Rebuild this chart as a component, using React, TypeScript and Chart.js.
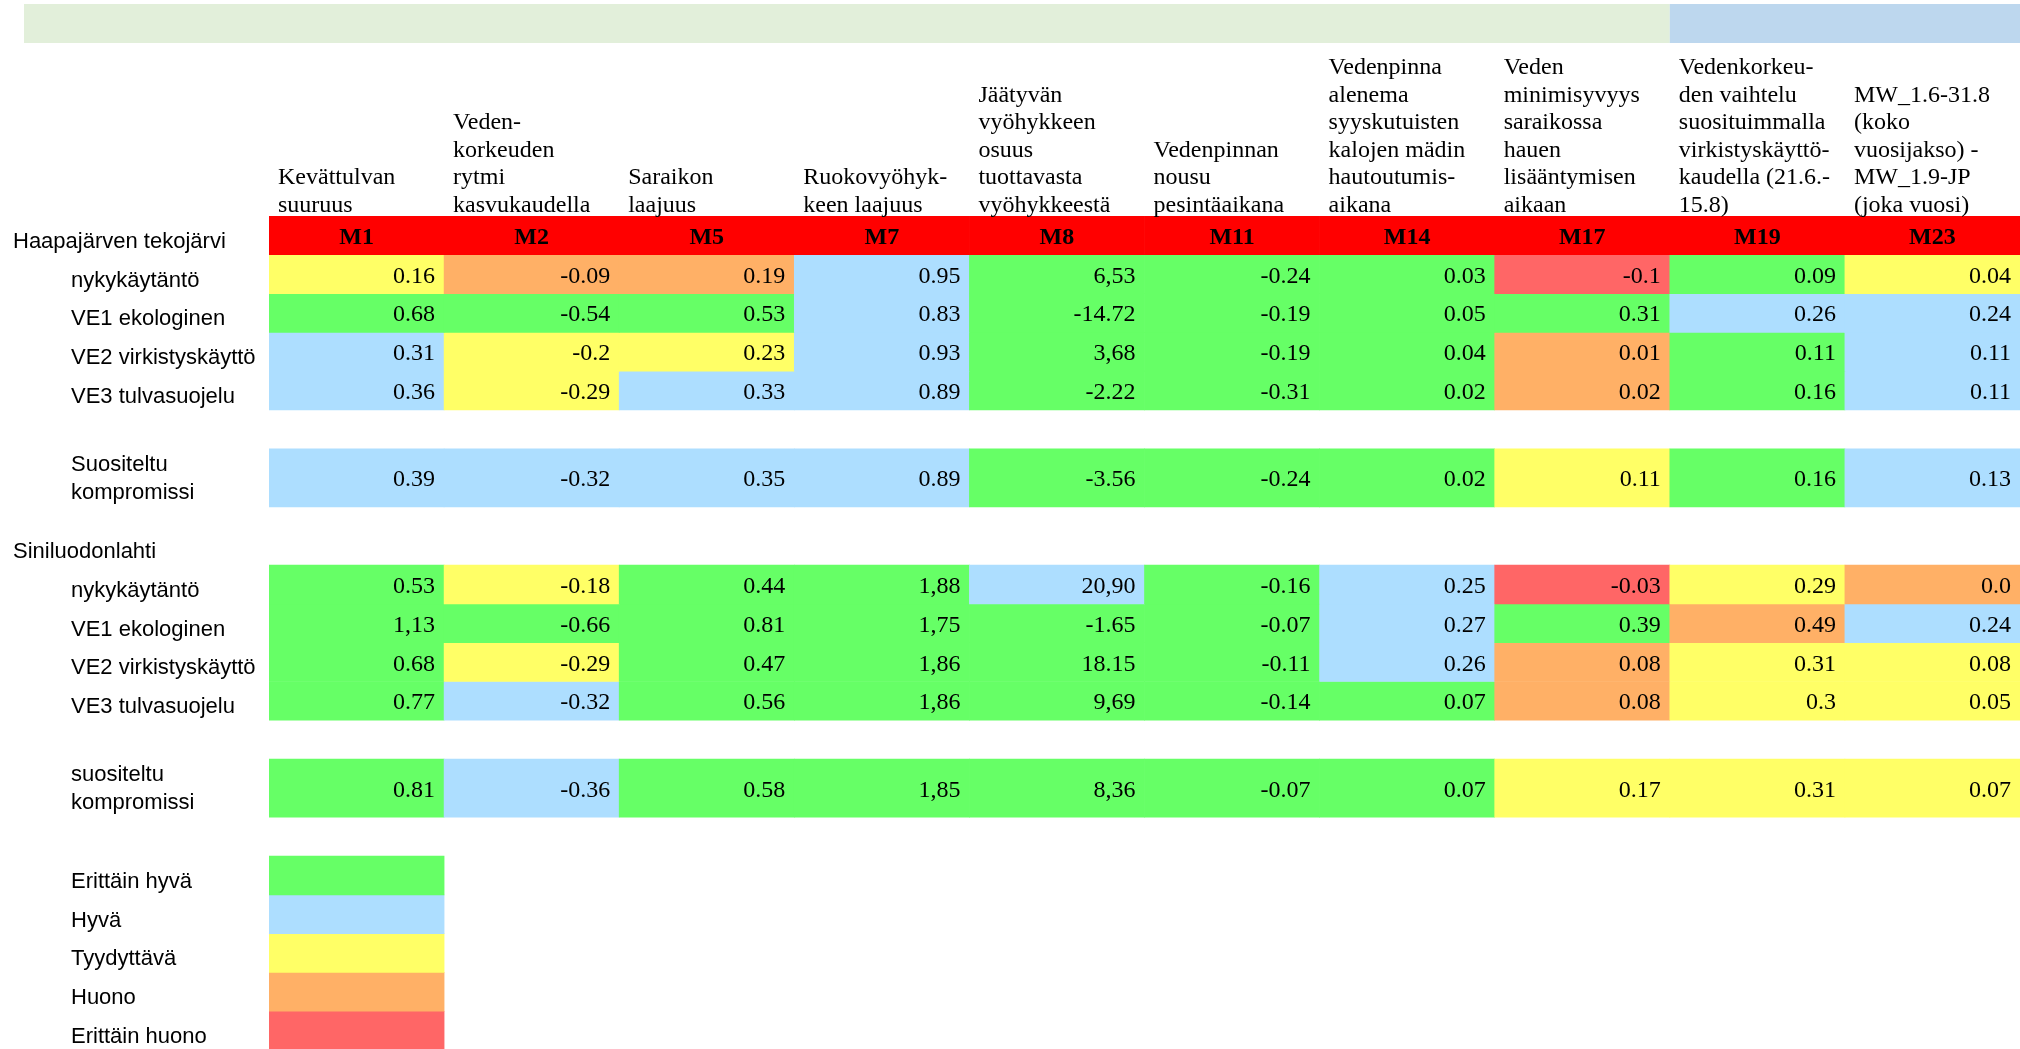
import React, { useEffect, useRef } from 'react';
import { Chart, registerables } from 'chart.js';

Chart.register(...registerables);

// ---------------- DATA ----------------
const measures = ['M1', 'M2', 'M5', 'M7', 'M8', 'M11', 'M14', 'M17', 'M19', 'M23'];

const measureHeaders: string[][] = [
  ['Kevättulvan', 'suuruus'],
  ['Veden-', 'korkeuden', 'rytmi', 'kasvukaudella'],
  ['Saraikon', 'laajuus'],
  ['Ruokovyöhyk-', 'keen laajuus'],
  ['Jäätyvän', 'vyöhykkeen', 'osuus', 'tuottavasta', 'vyöhykkeestä'],
  ['Vedenpinnan', 'nousu', 'pesintäaikana'],
  ['Vedenpinna', 'alenema', 'syyskutuisten', 'kalojen mädin', 'hautoutumis-', 'aikana'],
  ['Veden', 'minimisyvyys', 'saraikossa', 'hauen', 'lisääntymisen', 'aikaan'],
  ['Vedenkorkeu-', 'den vaihtelu', 'suosituimmalla', 'virkistyskäyttö-', 'kaudella (21.6.-', '15.8)'],
  ['MW_1.6-31.8', '(koko', 'vuosijakso) -', 'MW_1.9-JP', '(joka vuosi)'],
];

const site1 = 'Haapajärven tekojärvi';
const site2 = 'Siniluodonlahti';

// Haapajärven tekojärvi
const haapaNykyLabel = ['nykykäytäntö'];
const haapaNyky = ['0.16', '-0.09', '0.19', '0.95', '6,53', '-0.24', '0.03', '-0.1', '0.09', '0.04'];
const haapaNykyClass = [3, 2, 2, 4, 5, 5, 5, 1, 5, 3];

const haapaVe1Label = ['VE1 ekologinen'];
const haapaVe1 = ['0.68', '-0.54', '0.53', '0.83', '-14.72', '-0.19', '0.05', '0.31', '0.26', '0.24'];
const haapaVe1Class = [5, 5, 5, 4, 5, 5, 5, 5, 4, 4];

const haapaVe2Label = ['VE2 virkistyskäyttö'];
const haapaVe2 = ['0.31', '-0.2', '0.23', '0.93', '3,68', '-0.19', '0.04', '0.01', '0.11', '0.11'];
const haapaVe2Class = [4, 3, 3, 4, 5, 5, 5, 2, 5, 4];

const haapaVe3Label = ['VE3 tulvasuojelu'];
const haapaVe3 = ['0.36', '-0.29', '0.33', '0.89', '-2.22', '-0.31', '0.02', '0.02', '0.16', '0.11'];
const haapaVe3Class = [4, 3, 4, 4, 5, 5, 5, 2, 5, 4];

const haapaKompLabel = ['Suositeltu', 'kompromissi'];
const haapaKomp = ['0.39', '-0.32', '0.35', '0.89', '-3.56', '-0.24', '0.02', '0.11', '0.16', '0.13'];
const haapaKompClass = [4, 4, 4, 4, 5, 5, 5, 3, 5, 4];

// Siniluodonlahti
const sinNykyLabel = ['nykykäytäntö'];
const sinNyky = ['0.53', '-0.18', '0.44', '1,88', '20,90', '-0.16', '0.25', '-0.03', '0.29', '0.0'];
const sinNykyClass = [5, 3, 5, 5, 4, 5, 4, 1, 3, 2];

const sinVe1Label = ['VE1 ekologinen'];
const sinVe1 = ['1,13', '-0.66', '0.81', '1,75', '-1.65', '-0.07', '0.27', '0.39', '0.49', '0.24'];
const sinVe1Class = [5, 5, 5, 5, 5, 5, 4, 5, 2, 4];

const sinVe2Label = ['VE2 virkistyskäyttö'];
const sinVe2 = ['0.68', '-0.29', '0.47', '1,86', '18.15', '-0.11', '0.26', '0.08', '0.31', '0.08'];
const sinVe2Class = [5, 3, 5, 5, 5, 5, 4, 2, 3, 3];

const sinVe3Label = ['VE3 tulvasuojelu'];
const sinVe3 = ['0.77', '-0.32', '0.56', '1,86', '9,69', '-0.14', '0.07', '0.08', '0.3', '0.05'];
const sinVe3Class = [5, 4, 5, 5, 5, 5, 5, 2, 3, 3];

const sinKompLabel = ['suositeltu', 'kompromissi'];
const sinKomp = ['0.81', '-0.36', '0.58', '1,85', '8,36', '-0.07', '0.07', '0.17', '0.31', '0.07'];
const sinKompClass = [5, 4, 5, 5, 5, 5, 5, 3, 3, 3];

// Legend
const legendLabels = ['Erittäin hyvä', 'Hyvä', 'Tyydyttävä', 'Huono', 'Erittäin huono'];
const legendClasses = [5, 4, 3, 2, 1];

// ---------------- STYLE / LAYOUT ----------------
const CLASS_COLORS: Record<number, string> = {
  5: '#66FF66',
  4: '#ADDEFF',
  3: '#FFFF66',
  2: '#FFB066',
  1: '#FF6666',
};
const HEADER_RED = '#FF0000';
const BAND_GREEN = '#E2EFDA';
const BAND_BLUE = '#BDD7EE';

// vertical spans in row units (layout)
const HEADER_SPAN: [number, number] = [0, 1];
const ROW_SPANS: [number, number][] = [
  [1, 2], [2, 3], [3, 4], [4, 5], [6, 7.5],
  [9, 10], [10, 11], [11, 12], [12, 13], [14, 15.5],
];
const SITE2_LABEL_BOTTOM = 9;
const LEGEND_SPANS: [number, number][] = [
  [16.5, 17.5], [17.5, 18.5], [18.5, 19.5], [19.5, 20.5], [20.5, 21.5],
];

const SERIF = "'Liberation Serif', 'Times New Roman', serif";
const SANS = "'Liberation Sans', Arial, sans-serif";

const tableRows = [
  { label: haapaNykyLabel, values: haapaNyky, classes: haapaNykyClass },
  { label: haapaVe1Label, values: haapaVe1, classes: haapaVe1Class },
  { label: haapaVe2Label, values: haapaVe2, classes: haapaVe2Class },
  { label: haapaVe3Label, values: haapaVe3, classes: haapaVe3Class },
  { label: haapaKompLabel, values: haapaKomp, classes: haapaKompClass },
  { label: sinNykyLabel, values: sinNyky, classes: sinNykyClass },
  { label: sinVe1Label, values: sinVe1, classes: sinVe1Class },
  { label: sinVe2Label, values: sinVe2, classes: sinVe2Class },
  { label: sinVe3Label, values: sinVe3, classes: sinVe3Class },
  { label: sinKompLabel, values: sinKomp, classes: sinKompClass },
];

function buildDatasets() {
  const ds: any[] = [];
  ds.push({
    label: 'header',
    kind: 'header',
    data: measures.map((_, i) => ({ x: i, y: [HEADER_SPAN[0], HEADER_SPAN[1]] })),
    backgroundColor: HEADER_RED,
    cellText: measures,
    rowLabel: [site1],
  });
  tableRows.forEach((r, k) => {
    const span = ROW_SPANS[k];
    ds.push({
      label: r.label.join(' '),
      kind: 'row',
      data: r.values.map((_, i) => ({ x: i, y: [span[0], span[1]] })),
      backgroundColor: r.classes.map((c) => CLASS_COLORS[c]),
      cellText: r.values,
      rowLabel: r.label,
    });
  });
  legendLabels.forEach((l, k) => {
    const span = LEGEND_SPANS[k];
    ds.push({
      label: l,
      kind: 'legend',
      data: [{ x: 0, y: [span[0], span[1]] }],
      backgroundColor: CLASS_COLORS[legendClasses[k]],
      rowLabel: [l],
    });
  });
  return ds;
}

const tablePlugin = {
  id: 'tableText',
  beforeDatasetsDraw(chart: any) {
    const ctx = chart.ctx;
    const xs = chart.scales.x;
    const split = xs.getPixelForValue(7.5);
    const right = xs.getPixelForValue(9.5);
    ctx.save();
    ctx.fillStyle = BAND_GREEN;
    ctx.fillRect(24, 4, split - 24, 39);
    ctx.fillStyle = BAND_BLUE;
    ctx.fillRect(split, 4, right - split, 39);
    ctx.restore();
  },
  afterDatasetsDraw(chart: any) {
    const ctx = chart.ctx;
    const xs = chart.scales.x;
    const ys = chart.scales.y;
    ctx.save();
    ctx.fillStyle = '#000';

    // column headers
    const headerTop = ys.getPixelForValue(HEADER_SPAN[0]);
    ctx.font = `24px ${SERIF}`;
    ctx.textAlign = 'left';
    ctx.textBaseline = 'alphabetic';
    measureHeaders.forEach((lines, i) => {
      const left = xs.getPixelForValue(i - 0.5) + 9;
      const n = lines.length;
      lines.forEach((line, k) => {
        ctx.fillText(line, left, headerTop - 4.5 - (n - 1 - k) * 27.5);
      });
    });

    chart.data.datasets.forEach((d: any, di: number) => {
      const meta = chart.getDatasetMeta(di);
      let rowTop = Infinity;
      let rowBottom = -Infinity;
      meta.data.forEach((el: any, j: number) => {
        const p = el.getProps(['x', 'y', 'base', 'width'], true);
        const top = Math.min(p.y, p.base);
        const bottom = Math.max(p.y, p.base);
        rowTop = Math.min(rowTop, top);
        rowBottom = Math.max(rowBottom, bottom);
        if (!d.cellText) return;
        const mid = (top + bottom) / 2;
        if (d.kind === 'header') {
          ctx.font = `bold 24px ${SERIF}`;
          ctx.textAlign = 'center';
          ctx.fillText(d.cellText[j], p.x, mid + 9);
        } else {
          ctx.font = `24px ${SERIF}`;
          ctx.textAlign = 'right';
          ctx.fillText(d.cellText[j], p.x + p.width / 2 - 9, mid + 8.5);
        }
      });
      // row labels
      ctx.font = `22px ${SANS}`;
      ctx.textAlign = 'left';
      const lx = d.kind === 'header' ? 13 : 71;
      const lines: string[] = d.rowLabel || [];
      if (lines.length === 1) {
        ctx.fillText(lines[0], lx, rowBottom - 7);
      } else if (lines.length === 2) {
        ctx.fillText(lines[0], lx, rowBottom - 36);
        ctx.fillText(lines[1], lx, rowBottom - 8);
      }
    });

    // second site label
    ctx.font = `22px ${SANS}`;
    ctx.textAlign = 'left';
    ctx.fillText(site2, 13, ys.getPixelForValue(SITE2_LABEL_BOTTOM) - 7);
    ctx.restore();
  },
};

export default function App() {
  const ref = useRef<HTMLCanvasElement>(null);
  useEffect(() => {
    const canvas = ref.current;
    if (!canvas) return;
    const chart = new Chart(canvas, {
      type: 'bar',
      data: { datasets: buildDatasets() },
      options: {
        responsive: false,
        animation: false,
        devicePixelRatio: 1,
        events: [],
        layout: { padding: { left: 269, top: 216, right: 0, bottom: 0 } },
        plugins: { legend: { display: false }, tooltip: { enabled: false } },
        datasets: {
          bar: { grouped: false, barPercentage: 1, categoryPercentage: 1, borderWidth: 0 },
        },
        scales: {
          x: {
            type: 'linear',
            min: -0.5,
            max: 9.5,
            offset: false,
            display: false,
            afterBuildTicks: (s: any) => {
              s.ticks = measures.map((_, i) => ({ value: i }));
            },
          },
          y: { type: 'linear', min: 0, max: 21.5, reverse: true, display: false },
        },
      } as any,
      plugins: [tablePlugin as any],
    });
    return () => chart.destroy();
  }, []);
  return (
    <canvas
      ref={ref}
      width={2020}
      height={1050}
      style={{ position: 'fixed', left: 0, top: 0, display: 'block', background: '#fff' }}
    />
  );
}
